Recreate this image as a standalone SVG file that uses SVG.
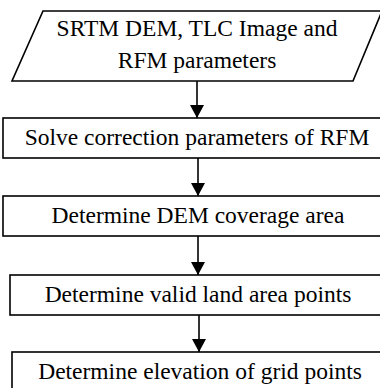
<svg xmlns="http://www.w3.org/2000/svg" width="380" height="388" viewBox="0 0 380 388">
<style>
.s{fill:#fff;stroke:#000;stroke-width:1.6}
.t{font-family:'Liberation Serif','Times New Roman',serif;font-size:23.5px;fill:#000;text-anchor:middle}
.c{stroke:#000;stroke-width:1.6;fill:none}
</style>
<defs>
<marker id="ah" markerWidth="13" markerHeight="14" refX="13" refY="7" orient="auto" markerUnits="userSpaceOnUse">
<path d="M0,0 L13,7 L0,14 Z" fill="#000"/>
</marker>
</defs>
<rect width="380" height="388" fill="#fff"/>
<g id="n0"><polygon class="s" points="43,11 382,11 353,81 12,81"/>
<text class="t" x="197" y="36">SRTM DEM, TLC Image and</text>
<text class="t" x="197" y="68">RFM parameters</text></g>
<g id="n1"><rect class="s" x="3" y="118" width="390" height="40"/>
<text class="t" x="197" y="144.5">Solve correction parameters of RFM</text></g>
<g id="n2"><rect class="s" x="3" y="196" width="390" height="40"/>
<text class="t" x="198" y="222.5">Determine DEM coverage area</text></g>
<g id="n3"><rect class="s" x="10" y="275" width="390" height="40"/>
<text class="t" x="198" y="301.5">Determine valid land area points</text></g>
<g id="n4"><rect class="s" x="12" y="352" width="390" height="40"/>
<text class="t" x="200" y="378.5">Determine elevation of grid points</text></g>
<g id="edges">
<line class="c" x1="197" y1="81" x2="197" y2="118" marker-end="url(#ah)"/>
<line class="c" x1="198" y1="158" x2="198" y2="196" marker-end="url(#ah)"/>
<line class="c" x1="198" y1="236" x2="198" y2="275" marker-end="url(#ah)"/>
<line class="c" x1="199" y1="315" x2="199" y2="352" marker-end="url(#ah)"/>
</g>
</svg>
